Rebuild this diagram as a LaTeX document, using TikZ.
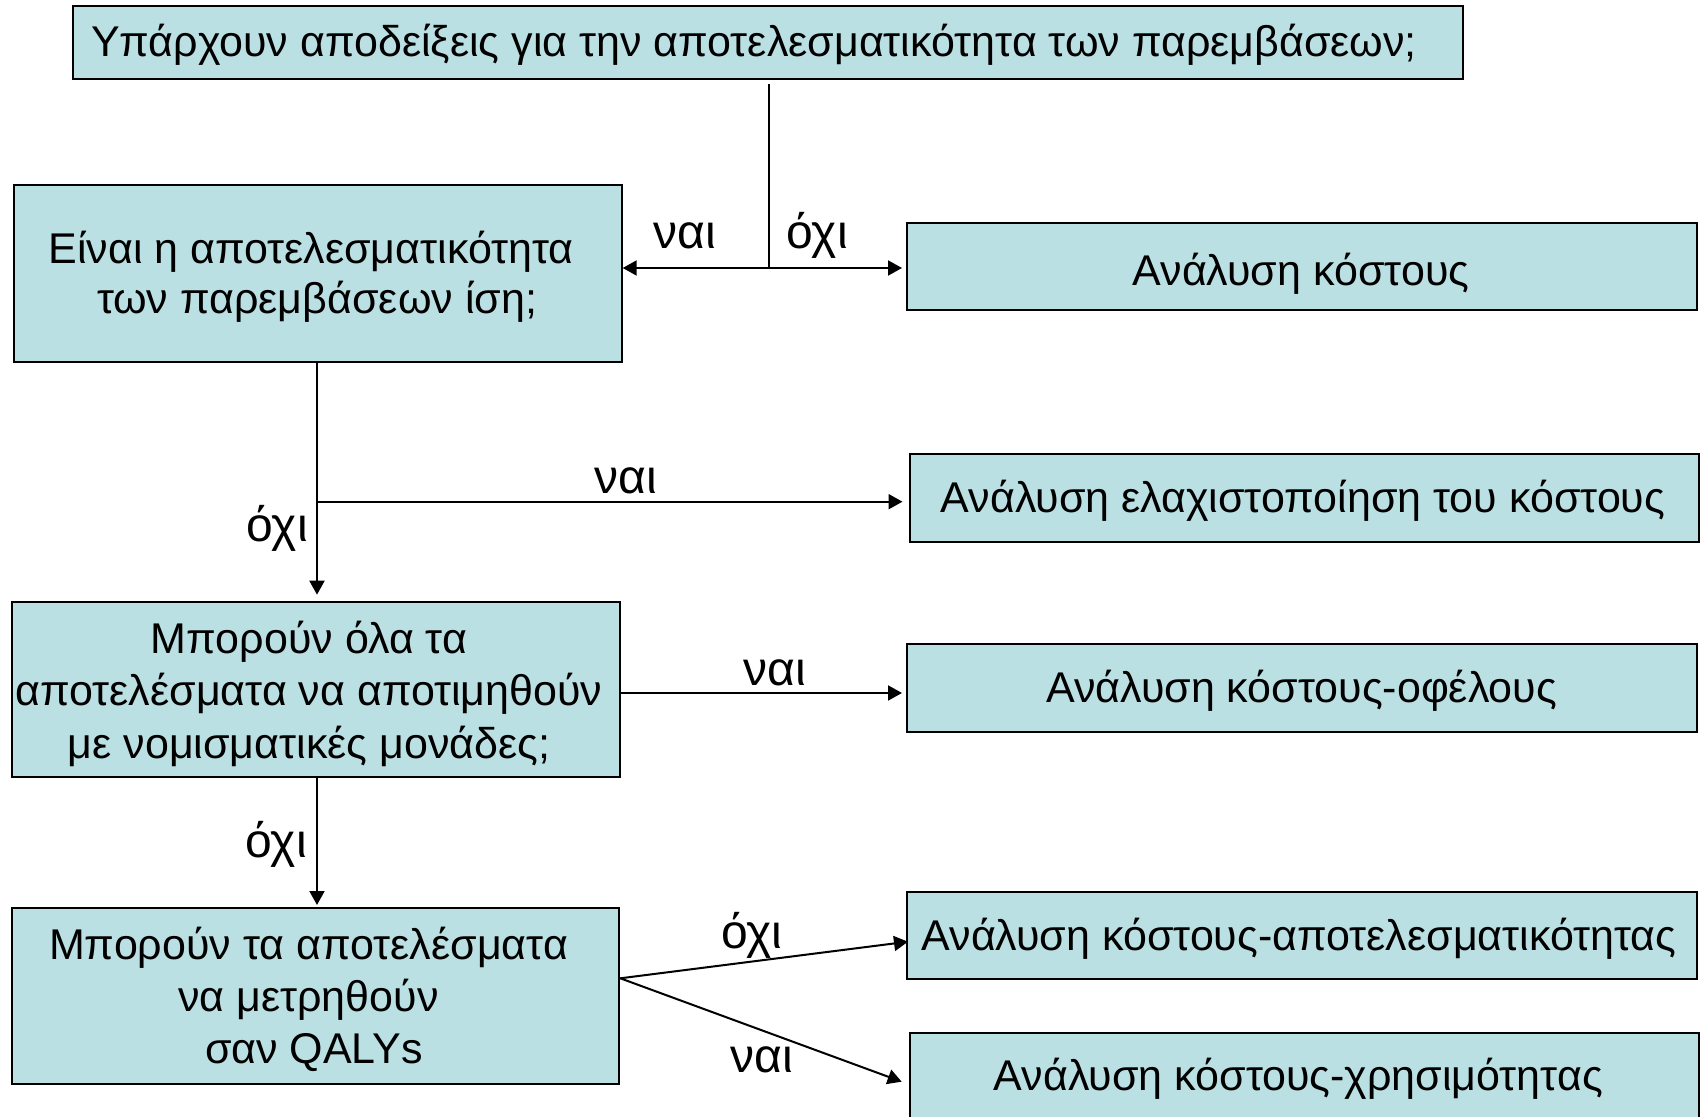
\documentclass[tikz,border=0pt]{standalone}
\usepackage{fontspec}
\setmainfont{Liberation Sans}
\usetikzlibrary{arrows.meta}
\definecolor{boxfill}{RGB}{187,224,227}
\tikzset{
  box/.style={draw=black, fill=boxfill, line width=1pt, inner sep=0pt, anchor=north west},
  txt/.style={font=\fontsize{21.5}{25.25}\selectfont, inner sep=0pt, anchor=base},
  lbl/.style={font=\fontsize{24}{28}\selectfont, inner sep=0pt, anchor=base},
  conn/.style={line width=1pt},
  arr/.style={conn, -{Triangle[length=7pt,width=7.5pt]}},
}
\begin{document}
\begin{tikzpicture}[x=0.5pt, y=-0.5pt]
\useasboundingbox (0,0) rectangle (1704,1117);
\clip (0,0) rectangle (1704,1117);
\fill[white] (0,0) rectangle (1704,1117);
% boxes
\node[box, minimum width=695pt, minimum height=36.5pt] (A) at (71.5,5.5) {};
\node[box, minimum width=304pt, minimum height=88.5pt] (B2) at (12.7,183.7) {};
\node[box, minimum width=395pt, minimum height=43.8pt] (B1) at (906,221.7) {};
\node[box, minimum width=394.75pt, minimum height=43.75pt] (B3) at (908.5,453.5) {};
\node[box, minimum width=303.9pt, minimum height=87.5pt] (B4) at (10.9,600.7) {};
\node[box, minimum width=395pt, minimum height=43.85pt] (B5) at (906,643.3) {};
\node[box, minimum width=303.7pt, minimum height=88.15pt] (B6) at (10.9,907) {};
\node[box, minimum width=395pt, minimum height=43.65pt] (B7) at (906,891) {};
\node[box, minimum width=394.5pt, minimum height=60pt] (B8) at (909,1032.3) {};
% connectors
\coordinate (j1) at (769,268);
\coordinate (j2) at (317,501.7);
\coordinate (p5) at (618.7,693);
\coordinate (p6) at (618.3,978.3);
\coordinate (t7) at (908,941.7);
\coordinate (t8) at (901.7,1081.7);
\draw[conn, shorten <=2pt] (A.south -| j1) -- (j1);
\draw[arr] (j1) -- (j1 -| B2.east);
\draw[arr, shorten >=2pt] (j1) -- (j1 -| B1.west);
\draw[arr, shorten >=3pt] (j2 |- B2.south) -- (j2 |- B4.north);
\draw[arr, shorten >=3pt] (j2) -- (j2 -| B3.west);
\draw[arr, shorten >=2pt] (B4.east |- p5) -- (p5 -| B5.west);
\draw[arr, shorten >=1pt] (j2 |- B4.south) -- (j2 |- B6.north);
\draw[arr] (B6.east |- p6) -- (t7);
\draw[arr] (B6.east |- p6) -- (t8);
% box texts
\node[txt] (At) at (754,56.7) {Υπάρχουν αποδείξεις για την αποτελεσματικότητα των παρεμβάσεων;};
\node[txt] (B2t) at (311,263.5) {\begin{tabular}[t]{@{}c@{}}Είναι η αποτελεσματικότητα\\\hspace*{6pt}των παρεμβάσεων ίση;\end{tabular}};
\node[txt] (B1t) at (1301,286) {Ανάλυση κόστους};
\node[txt] (B3t) at (1303,513) {Ανάλυση ελαχιστοποίηση του κόστους};
\node[txt, font=\fontsize{21.5}{26.25}\selectfont] (B4t) at (309,653.3) {\begin{tabular}[t]{@{}c@{}}Μπορούν όλα τα\\αποτελέσματα να αποτιμηθούν\\με νομισματικές μονάδες;\end{tabular}};
\node[txt] (B5t) at (1301.7,703) {Ανάλυση κόστους-οφέλους};
\node[txt, font=\fontsize{21.5}{26}\selectfont] (B6t) at (308.5,959) {\begin{tabular}[t]{@{}c@{}}Μπορούν τα αποτελέσματα\\να μετρηθούν\\\hspace*{5.5pt}σαν QALYs\end{tabular}};
\node[txt] (B7t) at (1299,950) {Ανάλυση κόστους-αποτελεσματικότητας};
\node[txt] (B8t) at (1298.4,1090) {Ανάλυση κόστους-χρησιμότητας};
% labels
\node[lbl] (L1) at (685,249) {ναι};
\node[lbl] (L2) at (817,249) {όχι};
\node[lbl] (L3) at (625.5,494) {ναι};
\node[lbl] (L4) at (277,541.5) {όχι};
\node[lbl] (L5) at (775,685) {ναι};
\node[lbl] (L6) at (276,857.3) {όχι};
\node[lbl] (L7) at (751.7,948.3) {όχι};
\node[lbl] (L8) at (761.7,1072.7) {ναι};
\end{tikzpicture}
\end{document}
